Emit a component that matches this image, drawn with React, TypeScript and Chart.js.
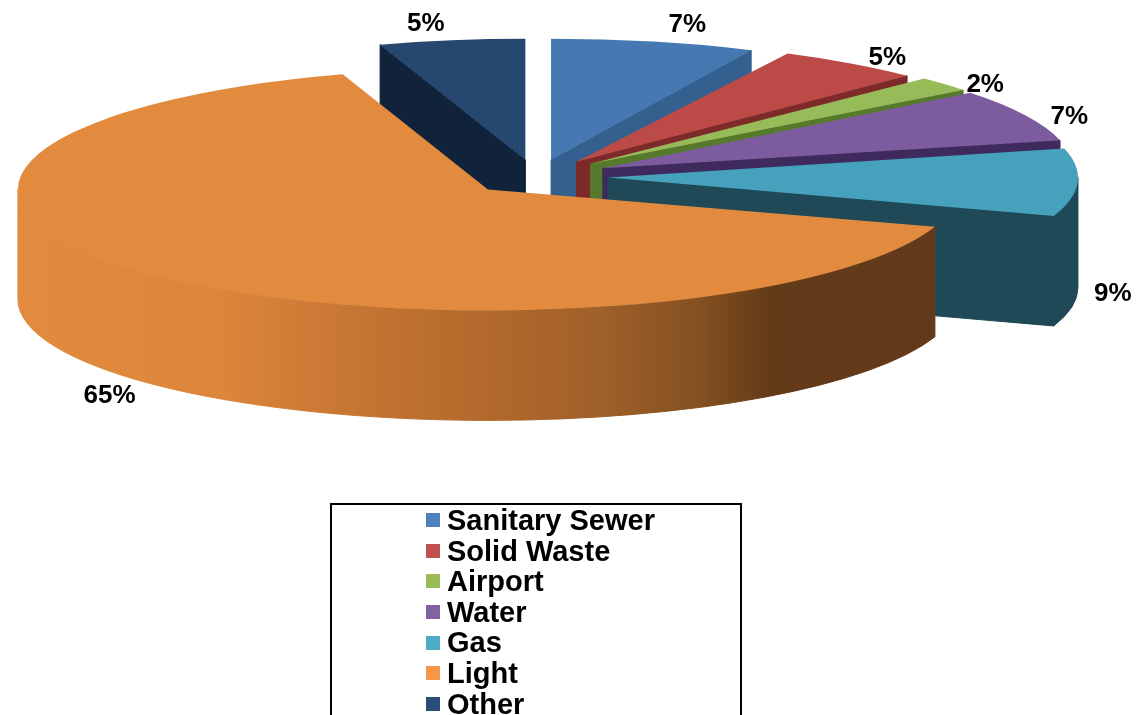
import React, { useEffect, useRef } from "react";
import { Chart, registerables } from "chart.js";

Chart.register(...registerables);

// Utility revenue shares, in percent
const categories = ["Sanitary Sewer", "Solid Waste", "Airport", "Water", "Gas", "Light", "Other"];
const shares = [7, 5, 2, 7, 9, 65, 5];

// Slice faces, their side walls, and the legend swatches
const faceColors = ["#4679B2", "#BC4B47", "#98BB59", "#7C5C9E", "#45A1BC", "#E28A3E", "#264870"];
const wallColors = ["#33608F", "#7F2A2A", "#567A2C", "#3F2A5E", "#1F4957", "#64391A", "#10233B"];
const swatchColors = ["#4F81BD", "#C0504D", "#9BBB59", "#8064A2", "#4BACC6", "#F79646", "#2C4D75"];

// Horizontal shading along the rim of the largest slice
const rimStops: [number, string][] = [
  [17, "#E28A3E"],
  [220, "#DD863B"],
  [300, "#CF7C36"],
  [400, "#BF7130"],
  [500, "#B0682B"],
  [600, "#A0602A"],
  [700, "#835020"],
  [770, "#643B19"],
  [935, "#62391A"],
];

// Where each percentage sits relative to the rim of its slice
const labelNudges: [number, number][] = [
  [34, -17],
  [49, -5],
  [57, 3],
  [54, 3],
  [39, 112],
  [-46, 121],
  [-26, -16],
];

// How far each slice is pulled out, and the small perspective turn in degrees
const pullOut = [69, 72, 75, 75, 72, 68, 68];
const perspectiveTurn = [0, 1.5, 2, 1, 0.5, 0, 0];

// Back-to-front painting order of the slices
const paintOrder = [6, 0, 1, 2, 3, 4, 5];

const CENTER_X = 536;
const CENTER_Y = 177;
const RADIUS_X = 470;
const RADIUS_Y = 121;
const DEPTH = 110;
const LABEL_PULL = 68;

// Lays the flat pie down: scaled faces, extruded walls, percentage labels
const tiltedPie = {
  id: "tiltedPie",
  beforeDatasetsDraw(chart: any) {
    const ctx = chart.ctx as CanvasRenderingContext2D;
    const arcs = chart.getDatasetMeta(0).data as any[];

    for (const i of paintOrder) {
      const arc = arcs[i];
      const turn = (perspectiveTurn[i] * Math.PI) / 180;
      const a = arc.startAngle + turn;
      const b = arc.endAngle + turn;
      const mid = (arc.startAngle + arc.endAngle) / 2;
      const cx = CENTER_X + Math.cos(mid) * pullOut[i];
      const cy = CENTER_Y + (Math.sin(mid) * pullOut[i] * RADIUS_Y) / RADIUS_X;
      const sx = RADIUS_X / arc.outerRadius;
      const sy = RADIUS_Y / arc.outerRadius;

      // A hairline of the wall's own colour closes the seams between wall pieces
      const paintWall = (paint: string | CanvasGradient) => {
        ctx.fillStyle = paint;
        ctx.strokeStyle = paint;
        ctx.lineWidth = 1;
        ctx.fill();
        ctx.stroke();
      };

      const cutWall = (angle: number) => {
        const px = cx + Math.cos(angle) * RADIUS_X;
        const py = cy + Math.sin(angle) * RADIUS_Y;
        ctx.beginPath();
        ctx.moveTo(cx, cy);
        ctx.lineTo(px, py);
        ctx.lineTo(px, py + DEPTH);
        ctx.lineTo(cx, cy + DEPTH);
        ctx.closePath();
        paintWall(wallColors[i]);
      };
      if (-Math.cos(a) > 0) cutWall(a);
      if (Math.cos(b) > 0) cutWall(b);

      const rimFrom = Math.max(a, 0);
      const rimTo = Math.min(b, Math.PI);
      if (rimTo > rimFrom) {
        ctx.beginPath();
        ctx.ellipse(cx, cy, RADIUS_X, RADIUS_Y, 0, rimFrom, rimTo);
        ctx.ellipse(cx, cy + DEPTH, RADIUS_X, RADIUS_Y, 0, rimTo, rimFrom, true);
        ctx.closePath();
        if (categories[i] === "Light") {
          const shade = ctx.createLinearGradient(17, 0, 935, 0);
          for (const [x, color] of rimStops) shade.addColorStop((x - 17) / 918, color);
          paintWall(shade);
        } else {
          paintWall(wallColors[i]);
        }
      }

      ctx.save();
      ctx.translate(cx, cy);
      ctx.scale(sx, sy);
      ctx.rotate(turn);
      ctx.translate(-arc.x, -arc.y);
      arc.draw(ctx);
      ctx.restore();
    }
    return false;
  },
  afterDraw(chart: any) {
    const ctx = chart.ctx as CanvasRenderingContext2D;
    const arcs = chart.getDatasetMeta(0).data as any[];
    ctx.save();
    ctx.font = 'bold 26px "Liberation Sans", Arial, sans-serif';
    ctx.fillStyle = "#000";
    ctx.textAlign = "center";
    ctx.textBaseline = "middle";
    arcs.forEach((arc, i) => {
      const mid = (arc.startAngle + arc.endAngle) / 2;
      const x = CENTER_X + Math.cos(mid) * (LABEL_PULL + RADIUS_X) + labelNudges[i][0];
      const y =
        CENTER_Y + Math.sin(mid) * ((LABEL_PULL * RADIUS_Y) / RADIUS_X + RADIUS_Y) + labelNudges[i][1];
      ctx.fillText(`${shares[i]}%`, x, y);
    });
    ctx.restore();
  },
};

export default function App() {
  const canvasRef = useRef<HTMLCanvasElement>(null);

  useEffect(() => {
    const chart = new Chart(canvasRef.current!, {
      type: "pie",
      data: {
        labels: categories,
        datasets: [
          {
            data: shares,
            backgroundColor: faceColors,
            borderWidth: 0,
          },
        ],
      },
      options: {
        responsive: false,
        animation: false,
        events: [],
        layout: { padding: 0 },
        plugins: { legend: { display: false }, tooltip: { enabled: false } },
      },
      plugins: [tiltedPie],
    } as any);
    return () => chart.destroy();
  }, []);

  return (
    <div
      style={{
        position: "fixed",
        left: 0,
        top: 0,
        width: 1142,
        height: 715,
        overflow: "hidden",
        background: "#fff",
      }}
    >
      <canvas ref={canvasRef} width={1142} height={715} style={{ position: "absolute", left: 0, top: 0 }} />
      <div
        style={{
          position: "absolute",
          left: 330,
          top: 503,
          width: 408,
          height: 240,
          border: "2px solid #000",
          boxSizing: "content-box",
          fontFamily: '"Liberation Sans", Arial, sans-serif',
          fontWeight: "bold",
          fontSize: 29,
          lineHeight: "30.6px",
          color: "#000",
        }}
      >
        {categories.map((name, i) => (
          <div key={name} style={{ display: "flex", alignItems: "center", paddingLeft: 94, height: 30.6 }}>
            <span style={{ width: 14, height: 14, background: swatchColors[i], marginRight: 7, flex: "none" }} />
            <span>{name}</span>
          </div>
        ))}
      </div>
    </div>
  );
}
